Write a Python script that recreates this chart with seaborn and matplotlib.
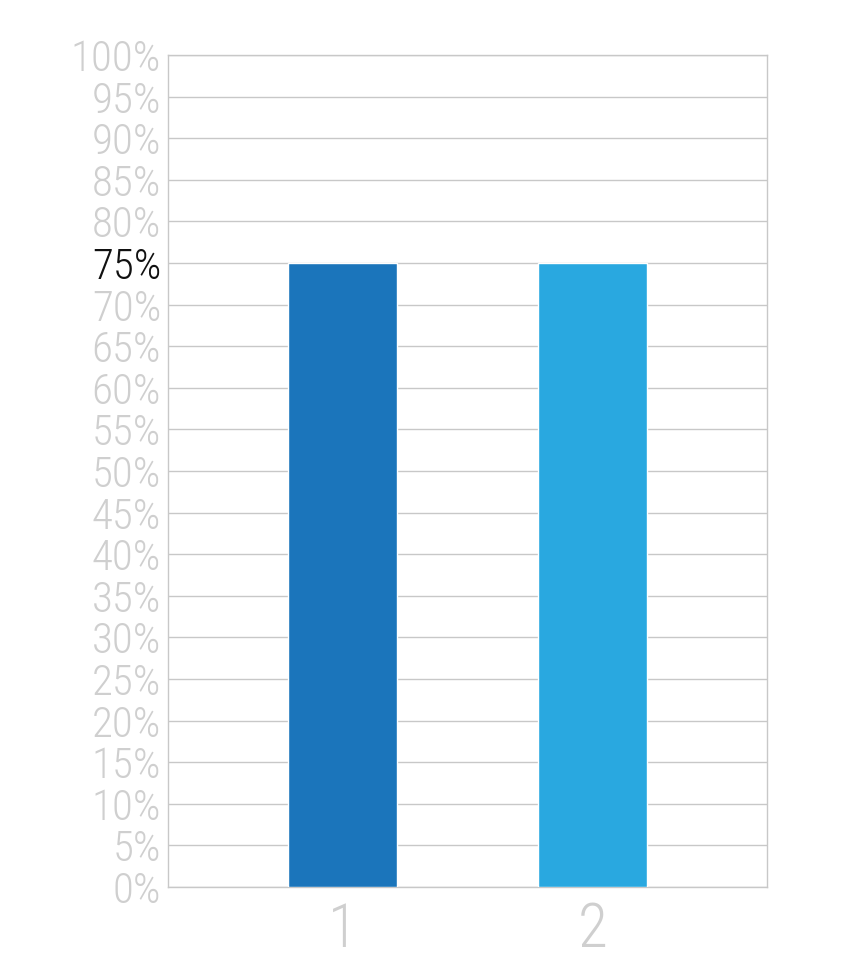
import matplotlib
matplotlib.use("Agg")
import matplotlib.pyplot as plt
import seaborn as sns
import pandas as pd
from matplotlib import font_manager

categories = ["1", "2"]
values = [75, 75]
bar_colors = ["#1b75bb", "#29a8e0"]
yticks = list(range(0, 101, 5))
ytick_labels = [f"{v}%" for v in yticks]
highlight = 75

sns.set_theme(style="white")
names = {f.name for f in font_manager.fontManager.ttflist}
fam = [f for f in ["Liberation Sans Narrow", "Roboto Condensed", "Roboto", "DejaVu Sans"] if f in names]
plt.rcParams["font.family"] = fam

fig = plt.figure(figsize=(8.67, 9.80), dpi=100)
ax = fig.add_axes([168/867, 1-887/980, (767-168)/867, (887-55)/980])

df = pd.DataFrame({"cat": categories, "val": values})
sns.barplot(data=df, x="cat", y="val", hue="cat", palette=bar_colors,
            legend=False, width=0.436, saturation=1, ax=ax, zorder=3)

ax.set_ylim(0, 100)
ax.set_xlim(-0.698, 1.698)
ax.set_yticks(yticks)
ax.set_yticklabels(ytick_labels)
ax.set_xlabel("")
ax.set_ylabel("")
ax.yaxis.grid(True, color="#c8c8c8", linewidth=1.0, zorder=0)
ax.xaxis.grid(False)
ax.set_axisbelow(True)
for s in ax.spines.values():
    s.set_visible(True)
    s.set_color("#c8c8c8")
    s.set_linewidth(1.0)
ax.tick_params(axis="y", length=0, pad=5, labelsize=31, labelcolor="#cfcfcf")
ax.tick_params(axis="x", length=0, pad=10, labelsize=44, labelcolor="#cfcfcf")
for lbl, v in zip(ax.get_yticklabels(), yticks):
    lbl.set_fontweight("light")
    if v == highlight:
        lbl.set_color("#111111")
for lbl in ax.get_xticklabels():
    lbl.set_fontweight("light")

fig.savefig("out.png", dpi=100, facecolor="white")
